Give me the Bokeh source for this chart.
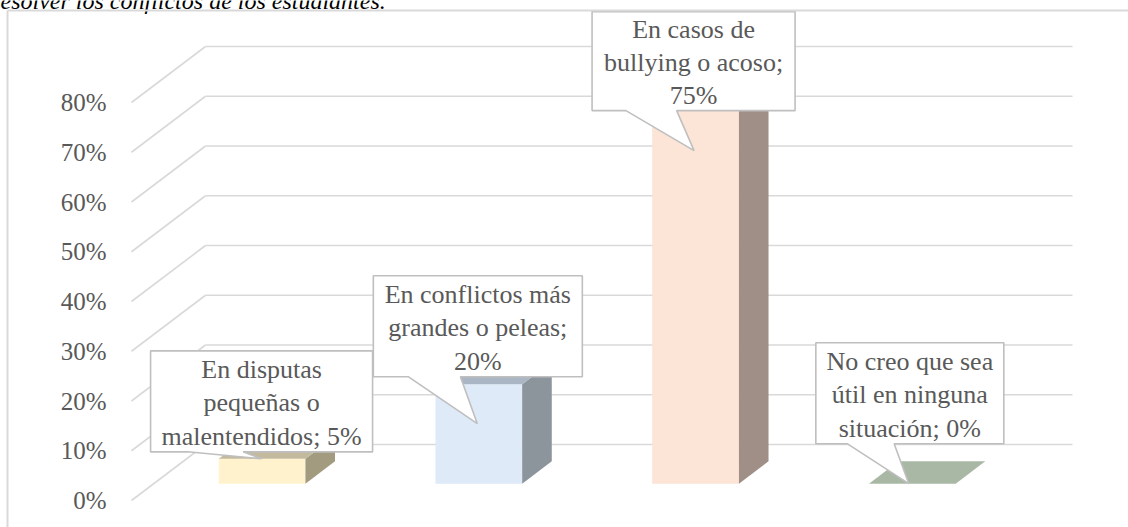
from bokeh.plotting import figure
from bokeh.models import Range1d
from bokeh.core.properties import value
from bokeh.embed import file_html
from bokeh.resources import INLINE

# ---- data ----
categories = [
    "En disputas\npequeñas o\nmalentendidos",
    "En conflictos más\ngrandes o peleas",
    "En casos de\nbullying o acoso",
    "No creo que sea\nútil en ninguna\nsituación",
]
values = [5, 20, 75, 0]  # percent
label_sep = [" ", "\n", "\n", " "]
ticks = [0, 10, 20, 30, 40, 50, 60, 70, 80]
tick_labels = [f"{t}%" for t in ticks]
caption_fragment = "esolver los conflictos de los estudiantes."

# ---- styles / layout ----
FRONT = ["#FFF2CC", "#DEEAF7", "#FCE4D6", "#E2EFDA"]
TOP = ["#C3BA9D", "#AAB6C3", "#C2AFA5", "#A9B8A5"]
SIDE = ["#A39B7F", "#8C949C", "#A08F87", "#8A9685"]
GRID = "#D9D9D9"
TXT = "#595959"
FONT = "Liberation Serif"

W, H = 1128, 527
PX_X = 216.75   # px per category
PX_Y = 4.975    # px per percent
ORIG_X, ORIG_Y = 131, 500  # canvas px of front-floor origin
DX = 74 / PX_X
DY = 56 / PX_Y
D0, D1 = 0.3, 0.7       # bar depth span
G0, G1 = 0.3, 0.7       # bar span within category

# label layout (px): box offset x, offset up, width, height, tip dx, tip drop
LABEL_LAYOUT = [
    (-0.5, 57.5, 222, 101, -0.5, 0),
    (-1.0, 58.0, 209, 101, -1.5, 39.5),
    (-2.0, 49.5, 203, 99, -1.5, 40),
    (-2.5, 90.5, 188, 101, -3.5, 0),
]

x0 = -ORIG_X / PX_X
y1 = ORIG_Y / PX_Y
p = figure(width=W, height=H,
           x_range=Range1d(x0, x0 + W / PX_X),
           y_range=Range1d(y1 - H / PX_Y, y1),
           x_axis_type=None, y_axis_type=None,
           toolbar_location=None, output_backend="svg",
           min_border=0, outline_line_color=None)
p.background_fill_color = "white"
p.border_fill_color = "white"

# cut-off caption above the chart (only its lower part is visible)
p.text(x=[x0], y=[ORIG_Y / PX_Y], text=[caption_fragment],
       text_font=value(FONT), text_font_size="24px", text_font_style="italic",
       text_color="#000000", text_align="left", text_baseline="alphabetic")

# gridlines: back wall and side wall
p.segment(x0=[DX] * len(ticks), y0=[t + DY for t in ticks],
          x1=[len(categories) + DX] * len(ticks), y1=[t + DY for t in ticks],
          line_color=GRID, line_width=1.6)
p.segment(x0=[0] * len(ticks), y0=ticks,
          x1=[DX] * len(ticks), y1=[t + DY for t in ticks],
          line_color=GRID, line_width=1.6)

# axis tick labels
p.text(x=[-25 / PX_X] * len(ticks), y=ticks, text=tick_labels,
       text_font=value(FONT), text_font_size="25px", text_color=TXT,
       text_align="right", text_baseline="middle")

# 3D bars
fx, fy, sx, sy, tx, ty = [], [], [], [], [], []
for i, v in enumerate(values):
    L = i + G0 + D0 * DX
    R = i + G1 + D0 * DX
    B = D0 * DY
    T = v + D0 * DY
    ddx = (D1 - D0) * DX
    ddy = (D1 - D0) * DY
    fx.append([L, R, R, L]); fy.append([B, B, T, T])
    sx.append([R, R + ddx, R + ddx, R]); sy.append([B, B + ddy, T + ddy, T])
    tx.append([L, R, R + ddx, L + ddx]); ty.append([T, T, T + ddy, T + ddy])
p.patches(xs=fx, ys=fy, fill_color=FRONT, line_color=None)
p.patches(xs=sx, ys=sy, fill_color=SIDE, line_color=None)
p.patches(xs=tx, ys=ty, fill_color=TOP, line_color=None)

# callouts
cx, cy, lx, ly, texts = [], [], [], [], []
for i, v in enumerate(values):
    ox, oy, w, h, tdx, tdrop = LABEL_LAYOUT[i]
    bar_cx = i + 0.5 + D0 * DX
    bar_top = v + D0 * DY
    bx = bar_cx + ox / PX_X
    by = bar_top + oy / PX_Y
    Lb = bx - w / 2 / PX_X
    Rb = bx + w / 2 / PX_X
    Tb = by + h / 2 / PX_Y
    Bb = by - h / 2 / PX_Y
    tipx = bar_cx + tdx / PX_X
    tipy = bar_top - tdrop / PX_Y
    cx.append([Lb, Rb, Rb, Lb + 0.41667 * w / PX_X, tipx, Lb + 0.16667 * w / PX_X, Lb])
    cy.append([Tb, Tb, Bb, Bb, tipy, Bb, Bb])
    lx.append(bx)
    ly.append(by - 1.5 / PX_Y)
    texts.append(f"{categories[i]};{label_sep[i]}{v}%")
p.patches(xs=cx, ys=cy, fill_color="white", line_color="#BFBFBF", line_width=1.6)
p.text(x=lx, y=ly, text=texts, text_font=value(FONT), text_font_size="26px",
       text_color=TXT, text_align="center", text_baseline="middle",
       text_line_height=1.15)

# outer chart border (top and left edges visible)
xr0 = (7 - ORIG_X) / PX_X
ytop = (ORIG_Y - 10) / PX_Y
p.segment(x0=[xr0, xr0], y0=[ytop, ytop], x1=[x0 + W / PX_X, xr0],
          y1=[ytop, y1 - H / PX_Y], line_color=GRID, line_width=2)

open("out.html", "w").write(file_html(p, INLINE))
